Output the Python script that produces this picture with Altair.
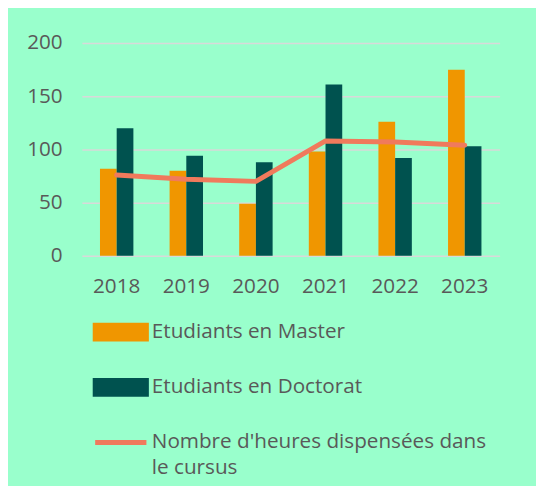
import altair as alt
import pandas as pd

years = ["2018", "2019", "2020", "2021", "2022", "2023"]
master = [82, 80, 49, 98, 126, 175]
doctorat = [120, 94, 88, 161, 92, 103]
heures = [76, 72, 70, 108, 107, 104]
bar_series = ["Etudiants en Master", "Etudiants en Doctorat"]
line_label_lines = ["Nombre d'heures dispensées dans", "le cursus"]
line_name = " ".join(line_label_lines)
colors = ["#F09600", "#00524F", "#F07A5C"]
y_ticks = [0, 50, 100, 150, 200]

TEXT = "#595959"
FONT = "Open Sans"

bars_df = pd.DataFrame({
    "year": years * 2,
    "series": [bar_series[0]] * len(years) + [bar_series[1]] * len(years),
    "value": master + doctorat,
})
line_df = pd.DataFrame({"year": years, "series": [line_name] * len(years), "value": heures})

domain = bar_series + [line_name]
color_scale = alt.Scale(domain=domain, range=colors)

is_line = f'datum.value === "{line_name}"'
legend = alt.Legend(
    title=None,
    orient="none",
    legendX=11,
    legendY=265,
    direction="vertical",
    padding=0,
    rowPadding=10,
    symbolSize=2704,
    symbolType=alt.ExprRef(expr=f'{is_line} ? "M-1,0H1" : "M-1,-0.27H1V0.27H-1Z"'),
    symbolFillColor=alt.ExprRef(expr=f'{is_line} ? "transparent" : scale("color", datum.value)'),
    symbolStrokeColor=alt.ExprRef(expr=f'{is_line} ? scale("color", datum.value) : "transparent"'),
    symbolStrokeWidth=5,
    symbolOpacity=1,
    labelOffset=3,
    labelLimit=600,
    labelFont=FONT,
    labelFontSize=21,
    labelColor=TEXT,
    labelExpr=f'{is_line} ? ["{line_label_lines[0]}", "{line_label_lines[1]}"] : datum.label',
)

x_enc = alt.X(
    "year:N",
    scale=alt.Scale(paddingInner=0.52, paddingOuter=0.26),
    axis=alt.Axis(title=None, labelAngle=0, domain=False, ticks=False,
                  labelFont=FONT, labelFontSize=21, labelColor=TEXT, labelPadding=20),
)
y_enc = alt.Y(
    "value:Q",
    scale=alt.Scale(domain=[0, 200], nice=False),
    axis=alt.Axis(title=None, values=y_ticks, domain=False, ticks=False,
                  labelFont=FONT, labelFontSize=21, labelColor=TEXT, labelPadding=20,
                  gridColor="#D9D9D9", gridWidth=1.5),
)

bars = alt.Chart(bars_df).mark_bar().encode(
    x=x_enc,
    xOffset=alt.XOffset("series:N", sort=bar_series, scale=alt.Scale(domain=bar_series, paddingInner=0, paddingOuter=0)),
    y=y_enc,
    color=alt.Color("series:N", scale=color_scale, sort=domain, legend=legend),
)

line = alt.Chart(line_df).mark_line(strokeWidth=5, strokeCap="round", strokeJoin="round").encode(
    x=alt.X("year:N"),
    y=alt.Y("value:Q"),
    color=alt.Color("series:N", scale=color_scale, sort=domain),
)

chart = alt.layer(bars, line).properties(
    width=424,
    height=216,
    autosize=alt.AutoSizeParams(type="none"),
    padding={"left": 75, "top": 32, "right": 37, "bottom": 230},
    background="#99FFCC",
).configure(
    style={"guide-label": {"lineHeight": 26}},
    view=alt.ViewConfig(stroke=None),
)

chart.save("out.html", embed_options={"renderer": "svg", "actions": False})
